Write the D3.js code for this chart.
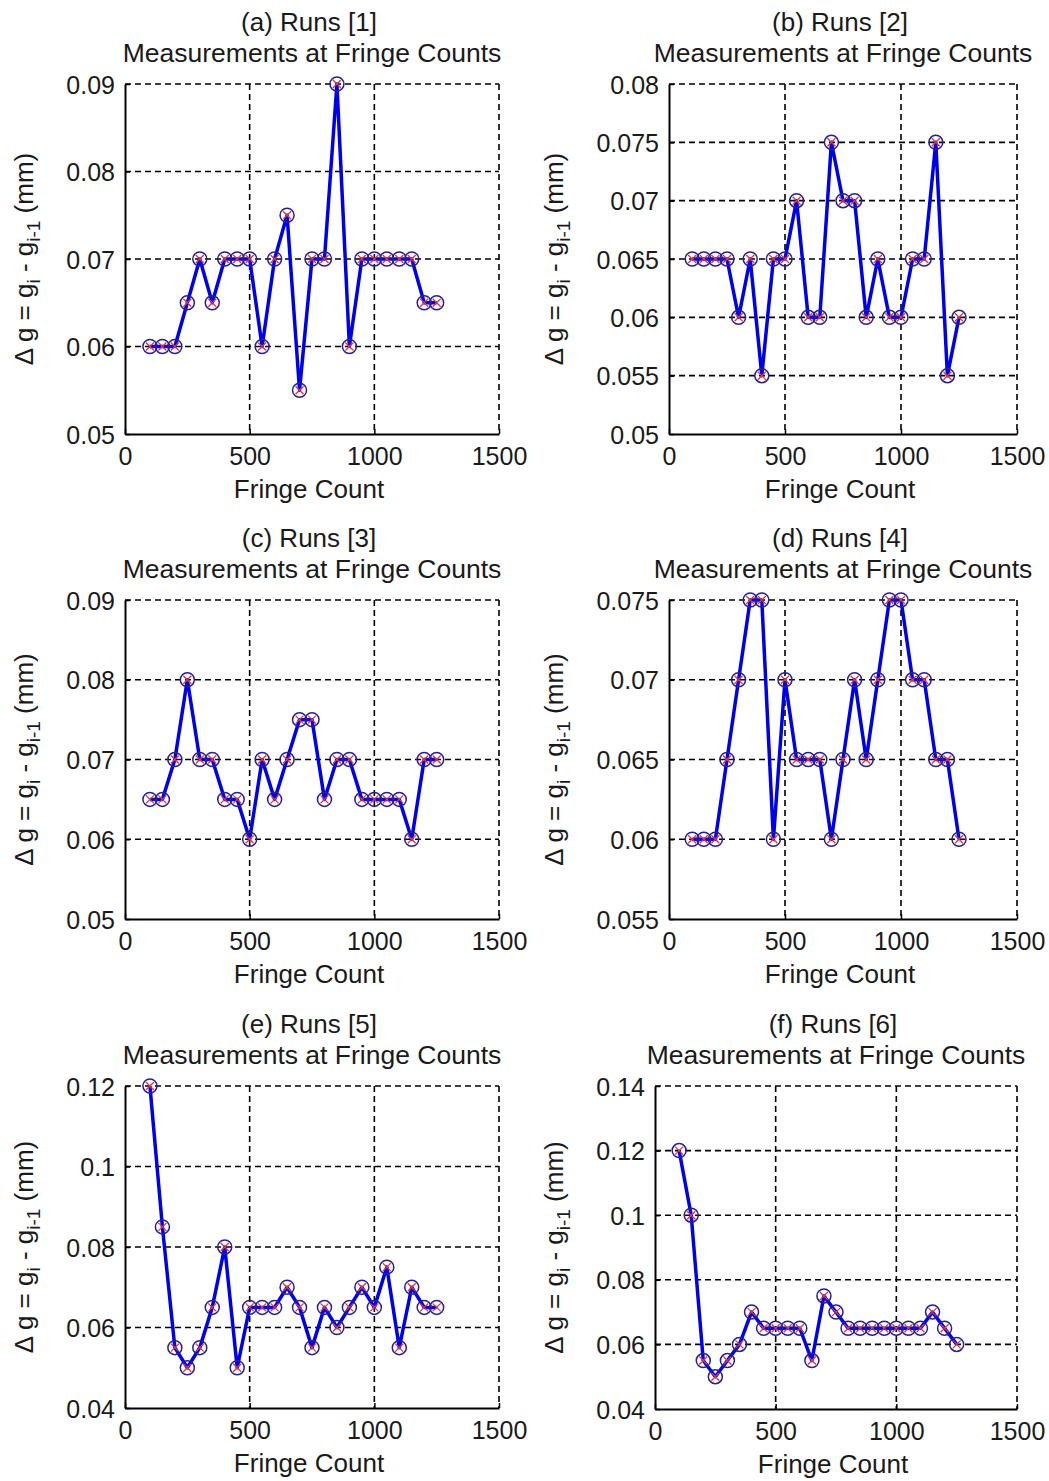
<!DOCTYPE html>
<html>
<head>
<meta charset="utf-8">
<script src="https://cdn.jsdelivr.net/npm/d3@7"></script>
<style>
  body { margin: 0; background: #fff; }
  text { font-family: "Liberation Sans", Arial, sans-serif; fill: #1a1a1a; }
</style>
</head>
<body>
<div id="canvas"></div>
<script>
// fringe counts where each run was measured
var fringeCounts = [100, 150, 200, 250, 300, 350, 400, 450, 500, 550, 600, 650,
                    700, 750, 800, 850, 900, 950, 1000, 1050, 1100, 1150, 1200, 1250];

var run1 = [0.06, 0.06, 0.06, 0.065, 0.07, 0.065, 0.07, 0.07, 0.07, 0.06, 0.07, 0.075,
            0.055, 0.07, 0.07, 0.09, 0.06, 0.07, 0.07, 0.07, 0.07, 0.07, 0.065, 0.065];
var run2 = [0.065, 0.065, 0.065, 0.065, 0.06, 0.065, 0.055, 0.065, 0.065, 0.07, 0.06, 0.06,
            0.075, 0.07, 0.07, 0.06, 0.065, 0.06, 0.06, 0.065, 0.065, 0.075, 0.055, 0.06];
var run3 = [0.065, 0.065, 0.07, 0.08, 0.07, 0.07, 0.065, 0.065, 0.06, 0.07, 0.065, 0.07,
            0.075, 0.075, 0.065, 0.07, 0.07, 0.065, 0.065, 0.065, 0.065, 0.06, 0.07, 0.07];
var run4 = [0.06, 0.06, 0.06, 0.065, 0.07, 0.075, 0.075, 0.06, 0.07, 0.065, 0.065, 0.065,
            0.06, 0.065, 0.07, 0.065, 0.07, 0.075, 0.075, 0.07, 0.07, 0.065, 0.065, 0.06];
var run5 = [0.12, 0.085, 0.055, 0.05, 0.055, 0.065, 0.08, 0.05, 0.065, 0.065, 0.065, 0.07,
            0.065, 0.055, 0.065, 0.06, 0.065, 0.07, 0.065, 0.075, 0.055, 0.07, 0.065, 0.065];
var run6 = [0.12, 0.1, 0.055, 0.05, 0.055, 0.06, 0.07, 0.065, 0.065, 0.065, 0.065, 0.055,
            0.075, 0.07, 0.065, 0.065, 0.065, 0.065, 0.065, 0.065, 0.065, 0.07, 0.065, 0.06];

var titles = ["(a) Runs [1]", "(b) Runs [2]", "(c) Runs [3]", "(d) Runs [4]", "(e) Runs [5]", "(f) Runs [6]"];
var subtitle = "Measurements at Fringe Counts";
var xLabel = "Fringe Count";

var xTicks = [0, 500, 1000, 1500];
var yTicks1 = [0.05, 0.06, 0.07, 0.08, 0.09];
var yTicks2 = [0.05, 0.055, 0.06, 0.065, 0.07, 0.075, 0.08];
var yTicks3 = [0.05, 0.06, 0.07, 0.08, 0.09];
var yTicks4 = [0.055, 0.06, 0.065, 0.07, 0.075];
var yTicks5 = [0.04, 0.06, 0.08, 0.1, 0.12];
var yTicks6 = [0.04, 0.06, 0.08, 0.1, 0.12, 0.14];

var runs = [run1, run2, run3, run4, run5, run6];
var yTickSets = [yTicks1, yTicks2, yTicks3, yTicks4, yTicks5, yTicks6];

// panel boxes (pixels)
var boxes = [
    { left: 125, right: 499, top: 84, bottom: 434, labelX: 33 },
    { left: 669, right: 1017, top: 84, bottom: 434, labelX: 563 },
    { left: 125, right: 499, top: 600, bottom: 919, labelX: 33 },
    { left: 669, right: 1017, top: 600, bottom: 919, labelX: 563 },
    { left: 125, right: 499, top: 1086, bottom: 1408, labelX: 33 },
    { left: 655, right: 1017, top: 1086, bottom: 1409, labelX: 563 }
];

var svg = d3.select("#canvas").append("svg")
    .attr("width", 1049)
    .attr("height", 1481);

var fmt = function (d) { return String(+d.toFixed(4)); };

boxes.forEach(function (b, k) {
    var ticks = yTickSets[k];
    var x = d3.scaleLinear().domain([0, 1500]).range([b.left, b.right]);
    var y = d3.scaleLinear().domain([ticks[0], ticks[ticks.length - 1]]).range([b.bottom, b.top]);
    var g = svg.append("g");

    // dashed grid
    g.selectAll(".vgrid").data(xTicks.slice(1)).enter().append("line")
        .attr("x1", function (d) { return x(d); })
        .attr("x2", function (d) { return x(d); })
        .attr("y1", b.top).attr("y2", b.bottom)
        .style("stroke", "#000").style("stroke-width", 1.6)
        .style("stroke-dasharray", "6,4");
    g.selectAll(".hgrid").data(ticks.slice(1)).enter().append("line")
        .attr("x1", b.left).attr("x2", b.right)
        .attr("y1", function (d) { return y(d); })
        .attr("y2", function (d) { return y(d); })
        .style("stroke", "#000").style("stroke-width", 1.6)
        .style("stroke-dasharray", "6,4");

    // axes
    var xAxis = d3.axisBottom(x).tickValues(xTicks).tickSizeInner(-5).tickSizeOuter(0)
        .tickPadding(9).tickFormat(d3.format("d"));
    var yAxis = d3.axisLeft(y).tickValues(ticks).tickSizeInner(-5).tickSizeOuter(0)
        .tickPadding(10).tickFormat(fmt);

    var gx = g.append("g").attr("transform", "translate(0," + b.bottom + ")").call(xAxis);
    var gy = g.append("g").attr("transform", "translate(" + b.left + ",0)").call(yAxis);
    [gx, gy].forEach(function (ax) {
        ax.select(".domain").style("stroke", "#000").style("stroke-width", 2);
        ax.selectAll(".tick line").style("stroke", "#000").style("stroke-width", 1.5);
        ax.selectAll(".tick text").style("font-size", "25px").style("fill", "#1a1a1a")
            .style("font-family", "'Liberation Sans', Arial, sans-serif");
    });
    gy.selectAll(".tick text").attr("dy", "0.36em");
    gx.selectAll(".tick text").attr("dy", "0.88em");

    // titles
    var cx = (b.left + b.right) / 2;
    g.append("text").attr("x", cx - 3).attr("y", b.top - 53)
        .attr("text-anchor", "middle").style("font-size", "26px").text(titles[k]);
    g.append("text").attr("x", cx).attr("y", b.top - 22)
        .attr("text-anchor", "middle").style("font-size", "26.5px").text(subtitle);
    g.append("text").attr("x", cx - 3).attr("y", b.bottom + 64)
        .attr("text-anchor", "middle").style("font-size", "26px").text(xLabel);

    // y label with subscripts
    var cy = (b.top + b.bottom) / 2;
    var yl = g.append("text")
        .attr("transform", "translate(" + b.labelX + "," + cy + ") rotate(-90)")
        .attr("text-anchor", "middle").style("font-size", "26px");
    yl.append("tspan").text("\u0394 g = g");
    yl.append("tspan").attr("dy", 7).style("font-size", "19px").text("i");
    yl.append("tspan").attr("dy", -7).text(" - g");
    yl.append("tspan").attr("dy", 7).style("font-size", "19px").text("i-1");
    yl.append("tspan").attr("dy", -7).text("  (mm)");

    // series
    var pts = fringeCounts.map(function (f, i) { return { x: f, y: runs[k][i] }; });
    var line = d3.line().x(function (d) { return x(d.x); }).y(function (d) { return y(d.y); });
    g.append("path").datum(pts).attr("d", line)
        .style("fill", "none").style("stroke", "#0000f0").style("stroke-width", 3.5)
        .style("stroke-linejoin", "round");

    g.selectAll(".mk").data(pts).enter().append("circle")
        .attr("cx", function (d) { return x(d.x); })
        .attr("cy", function (d) { return y(d.y); })
        .attr("r", 7)
        .style("fill", "none").style("stroke", "#2b1f8f").style("stroke-width", 1.5);

    var s = 4;
    g.selectAll(".xm").data(pts).enter().append("path")
        .attr("d", function (d) {
            var px = x(d.x), py = y(d.y);
            return "M" + (px - s) + "," + (py - s) + "L" + (px + s) + "," + (py + s) +
                   "M" + (px - s) + "," + (py + s) + "L" + (px + s) + "," + (py - s);
        })
        .style("stroke", "#d9374a").style("stroke-width", 1.3);
});
</script>
</body>
</html>
